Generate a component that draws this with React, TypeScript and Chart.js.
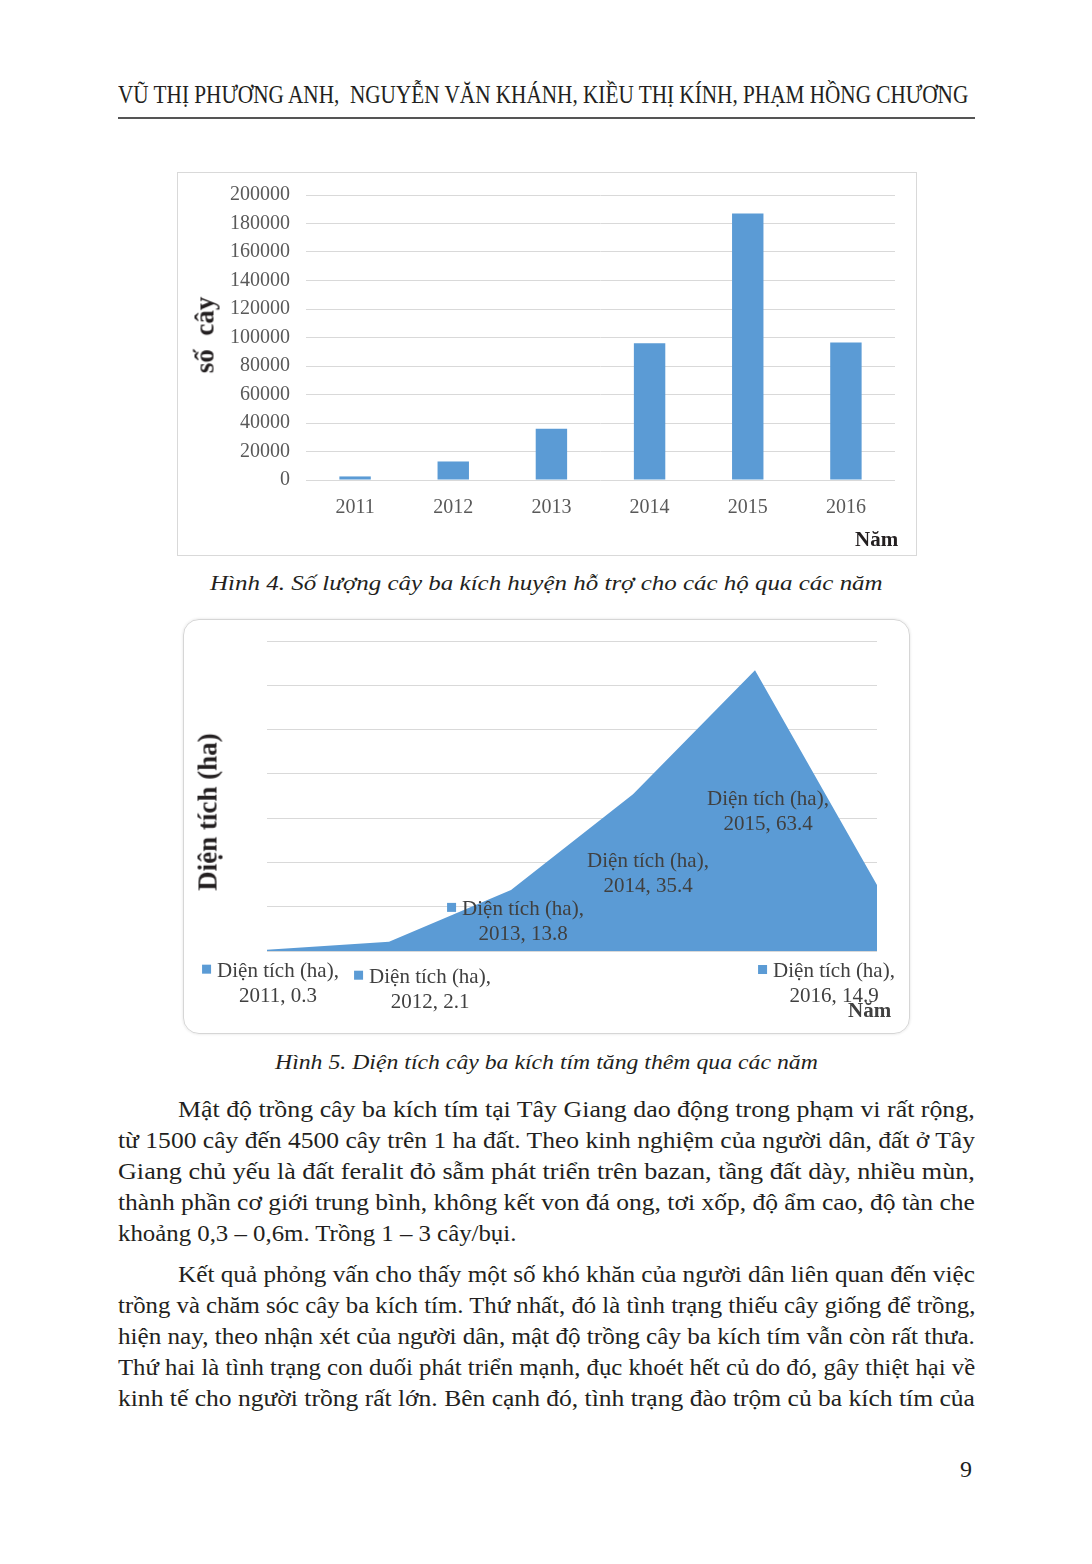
import React, { useEffect, useLayoutEffect, useRef } from 'react';
import { Chart, registerables } from 'chart.js';

Chart.register(...registerables);

// ---------- data ----------
const years = ['2011', '2012', '2013', '2014', '2015', '2016'];
const seedlings = [2500, 13000, 36000, 96000, 187000, 96500];
const seedlingAxisMax = 200000;
const seedlingAxisStep = 20000;

const areaHa = [0.3, 2.1, 13.8, 35.4, 63.4, 14.9];
const areaAxisMax = 70;
const areaAxisStep = 10;
const areaLabelPrefix = 'Diện tích (ha),';
const areaLabelHasKey = [true, true, true, false, false, true];

const headerText = 'VŨ THỊ PHƯƠNG ANH,  NGUYỄN VĂN KHÁNH, KIỀU THỊ KÍNH, PHẠM HỒNG CHƯƠNG';
const caption4 = 'Hình 4. Số lượng cây ba kích huyện hỗ trợ cho các hộ qua các năm';
const caption5 = 'Hình 5. Diện tích cây ba kích tím tăng thêm qua các năm';
const para1 = [
  'Mật độ trồng cây ba kích tím tại Tây Giang dao động trong phạm vi rất rộng,',
  'từ 1500 cây đến 4500 cây trên 1 ha đất. Theo kinh nghiệm của người dân, đất ở Tây',
  'Giang chủ yếu là đất feralit đỏ sẫm phát triển trên bazan, tầng đất dày, nhiều mùn,',
  'thành phần cơ giới trung bình, không kết von đá ong, tơi xốp, độ ẩm cao, độ tàn che',
  'khoảng 0,3 – 0,6m. Trồng 1 – 3 cây/bụi.',
];
const para2 = [
  'Kết quả phỏng vấn cho thấy một số khó khăn của người dân liên quan đến việc',
  'trồng và chăm sóc cây ba kích tím. Thứ nhất, đó là tình trạng thiếu cây giống để trồng,',
  'hiện nay, theo nhận xét của người dân, mật độ trồng cây ba kích tím vẫn còn rất thưa.',
  'Thứ hai là tình trạng con duối phát triển mạnh, đục khoét hết củ do đó, gây thiệt hại về',
  'kinh tế cho người trồng rất lớn. Bên cạnh đó, tình trạng đào trộm củ ba kích tím của',
];

const SERIF = '"Liberation Serif", "Times New Roman", serif';
const BLUE = '#5b9bd5';
const TEXT = '#231f20';
const AXIS_TEXT = '#595959';
const LABEL_TEXT = '#404040';

// ---------- fitted text line ----------
function Line(props: { x: number; base: number; w?: number; size: number; text: string; style?: any }) {
  const ref = useRef<HTMLSpanElement>(null);
  useLayoutEffect(() => {
    const fit = () => {
      const el = ref.current;
      if (!el) return;
      el.style.transform = 'none';
      const nat = el.offsetWidth;
      if (nat > 0 && props.w) el.style.transform = `scaleX(${props.w / nat})`;
    };
    fit();
    if ((document as any).fonts && (document as any).fonts.ready) (document as any).fonts.ready.then(fit);
  }, [props.text, props.w]);
  return (
    <span
      ref={ref}
      style={{
        position: 'absolute',
        left: props.x,
        top: props.base - 0.8375 * props.size,
        fontSize: props.size,
        lineHeight: `${props.size}px`,
        whiteSpace: 'pre',
        transformOrigin: '0 0',
        fontFamily: SERIF,
        color: TEXT,
        display: 'inline-block',
        ...(props.style || {}),
      }}
    >
      {props.text}
    </span>
  );
}

// ---------- chart 1: bars ----------
function BarChart() {
  const ref = useRef<HTMLCanvasElement>(null);
  useEffect(() => {
    const c = ref.current;
    if (!c) return;
    const font = { family: SERIF, size: 20 };
    const chart = new Chart(c, {
      type: 'bar',
      data: {
        labels: years,
        datasets: [
          { data: seedlings, backgroundColor: BLUE, categoryPercentage: 1, barPercentage: 0.32 } as any,
        ],
      },
      options: {
        animation: false,
        responsive: false,
        devicePixelRatio: 1,
        layout: { padding: { left: 20, right: 21, top: 14, bottom: 15 } },
        plugins: { legend: { display: false }, tooltip: { enabled: false } },
        scales: {
          x: {
            grid: { display: false },
            border: { display: false },
            ticks: { color: AXIS_TEXT, font, padding: 8, maxRotation: 0 },
            afterFit: (s: any) => { s.height = 60; },
          },
          y: {
            min: 0,
            max: seedlingAxisMax,
            ticks: { stepSize: seedlingAxisStep, color: AXIS_TEXT, font, padding: 16, callback: (v: any) => String(v) },
            grid: { color: '#d9d9d9', drawTicks: false },
            border: { display: false },
            afterFit: (s: any) => { s.width = 108; },
          },
        },
      } as any,
    });
    return () => chart.destroy();
  }, []);
  return <canvas ref={ref} width={738} height={388} style={{ position: 'absolute', left: 178, top: 167 }} />;
}

// ---------- chart 2: area ----------
const areaLabelPlugin = {
  id: 'areaLabels',
  afterDatasetsDraw(chart: any) {
    const meta = chart.getDatasetMeta(0);
    const ctx = chart.ctx;
    // label placement relative to each data point (dx = centre, dy = first baseline)
    const offsets = [[11, 27], [41, 41], [12, 25], [15, 73], [13, 135], [-43, 92]];
    ctx.save();
    ctx.font = `21px ${SERIF}`;
    ctx.textAlign = 'center';
    ctx.textBaseline = 'alphabetic';
    meta.data.forEach((pt: any, i: number) => {
      const [dx, dy] = offsets[i];
      const cx = pt.x + dx;
      const by = pt.y + dy;
      const l1 = areaLabelPrefix;
      const l2 = `${years[i]}, ${areaHa[i]}`;
      ctx.fillStyle = LABEL_TEXT;
      ctx.fillText(l1, cx, by);
      ctx.fillText(l2, cx, by + 25);
      if (areaLabelHasKey[i]) {
        const w = ctx.measureText(l1).width;
        ctx.fillStyle = BLUE;
        ctx.fillRect(cx - w / 2 - 15, by - 12, 9, 9);
      }
    });
    ctx.restore();
  },
};

function AreaChart() {
  const ref = useRef<HTMLCanvasElement>(null);
  useEffect(() => {
    const c = ref.current;
    if (!c) return;
    const chart = new Chart(c, {
      type: 'line',
      data: {
        labels: years,
        datasets: [
          {
            data: areaHa,
            fill: 'origin',
            backgroundColor: BLUE,
            borderColor: 'rgba(0,0,0,0)',
            borderWidth: 0,
            pointRadius: 0,
            tension: 0,
          },
        ],
      },
      options: {
        animation: false,
        responsive: false,
        devicePixelRatio: 1,
        layout: { padding: { left: 84, right: 33, top: 22, bottom: 83 } },
        plugins: { legend: { display: false }, tooltip: { enabled: false } },
        scales: {
          x: {
            offset: false,
            grid: { display: false },
            border: { display: false },
            ticks: { display: false },
            afterFit: (s: any) => { s.height = 0; },
          },
          y: {
            min: 0,
            max: areaAxisMax,
            ticks: { display: false, stepSize: areaAxisStep },
            grid: { color: '#d9d9d9', drawTicks: false },
            border: { display: false },
            afterFit: (s: any) => { s.width = 0; },
          },
        },
      } as any,
      plugins: [areaLabelPlugin],
    });
    return () => chart.destroy();
  }, []);
  return <canvas ref={ref} width={727} height={415} style={{ position: 'absolute', left: 183, top: 619 }} />;
}

export default function App() {
  return (
    <div
      style={{
        position: 'absolute',
        left: 0,
        top: 0,
        width: 1092,
        height: 1564,
        background: '#fff',
        overflow: 'hidden',
        fontFamily: SERIF,
      }}
    >
      <Line x={118} base={104} w={850} size={26} text={headerText} />
      <div style={{ position: 'absolute', left: 118, top: 117, width: 857, height: 1.5, background: '#555' }} />

      {/* Figure 4 */}
      <div style={{ position: 'absolute', left: 177, top: 172, width: 738, height: 382, border: '1px solid #d9d9d9' }} />
      <BarChart />
      <div
        style={{
          position: 'absolute', left: 205, top: 335, transform: 'translate(-50%,-50%) rotate(-90deg)',
          fontFamily: SERIF, fontWeight: 'bold', fontSize: 27, color: TEXT, whiteSpace: 'pre', lineHeight: '27px',
        }}
      >
        số  cây
      </div>
      <Line x={855} base={546} size={20} text="Năm" style={{ fontWeight: 'bold' }} w={43} />
      <Line x={210} base={590} w={673} size={22} text={caption4} style={{ fontStyle: 'italic' }} />

      {/* Figure 5 */}
      <div
        style={{
          position: 'absolute', left: 183, top: 619, width: 725, height: 413, border: '1px solid #d6d6d6',
          borderRadius: 16, boxShadow: '0 0 3px rgba(0,0,0,0.12)',
        }}
      />
      <AreaChart />
      <div
        style={{
          position: 'absolute', left: 208, top: 812, transform: 'translate(-50%,-50%) rotate(-90deg)',
          fontFamily: SERIF, fontWeight: 'bold', fontSize: 27, color: TEXT, whiteSpace: 'pre', lineHeight: '27px',
        }}
      >
        Diện tích (ha)
      </div>
      <Line x={848} base={1017} size={20} text="Năm" style={{ fontWeight: 'bold', color: LABEL_TEXT }} w={43} />
      <Line x={275} base={1069} w={543} size={22} text={caption5} style={{ fontStyle: 'italic' }} />

      {/* Paragraph 1 */}
      {para1.map((t, i) => (
        <Line key={'p1' + i} x={i === 0 ? 178 : 118} base={1117 + 31 * i} w={i === 0 ? 797 : i === 4 ? 398 : 857} size={24} text={t} />
      ))}
      {/* Paragraph 2 */}
      {para2.map((t, i) => (
        <Line key={'p2' + i} x={i === 0 ? 178 : 118} base={1282 + 31 * i} w={i === 0 ? 797 : 857} size={24} text={t} />
      ))}

      <Line x={960} base={1477} size={24} text="9" />
    </div>
  );
}
